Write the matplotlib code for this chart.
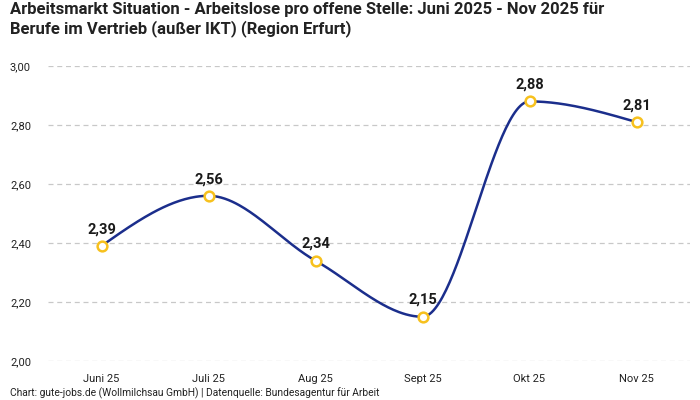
import numpy as np
import matplotlib
matplotlib.use("Agg")
import matplotlib.pyplot as plt

categories = ["Juni 25", "Juli 25", "Aug 25", "Sept 25", "Okt 25", "Nov 25"]
values = [2.39, 2.56, 2.34, 2.15, 2.88, 2.81]
yticks = [2.0, 2.2, 2.4, 2.6, 2.8, 3.0]

title = ("Arbeitsmarkt Situation - Arbeitslose pro offene Stelle: Juni 2025 - Nov 2025 für\n"
         "Berufe im Vertrieb (außer IKT) (Region Erfurt)")
footer = "Chart: gute-jobs.de (Wollmilchsau GmbH) | Datenquelle: Bundesagentur für Arbeit"

plt.rcParams['font.family'] = ['Roboto', 'DejaVu Sans']

LINE = "#1b2e8c"
GOLD = "#f7c11e"


def monotone_curve(x, y, n=60):
    x = np.asarray(x, float); y = np.asarray(y, float)
    m = len(x)
    h = np.diff(x); s = np.diff(y) / h
    t = np.zeros(m)
    for i in range(1, m - 1):
        p = (s[i-1] * h[i] + s[i] * h[i-1]) / (h[i-1] + h[i])
        t[i] = (np.sign(s[i-1]) + np.sign(s[i])) * min(abs(s[i-1]), abs(s[i]), 0.5 * abs(p))
    t[0] = (3 * s[0] - t[1]) / 2
    t[-1] = (3 * s[-1] - t[-2]) / 2
    xs, ys = [], []
    u = np.linspace(0, 1, n)
    for i in range(m - 1):
        dx = (x[i+1] - x[i]) / 3
        P0 = (x[i], y[i]); P1 = (x[i] + dx, y[i] + dx * t[i])
        P2 = (x[i+1] - dx, y[i+1] - dx * t[i+1]); P3 = (x[i+1], y[i+1])
        bx = (1-u)**3*P0[0] + 3*(1-u)**2*u*P1[0] + 3*(1-u)*u**2*P2[0] + u**3*P3[0]
        by = (1-u)**3*P0[1] + 3*(1-u)**2*u*P1[1] + 3*(1-u)*u**2*P2[1] + u**3*P3[1]
        xs.extend(bx); ys.extend(by)
    return np.array(xs), np.array(ys)


fig = plt.figure(figsize=(7, 4), dpi=100)
ax = fig.add_axes([48/700, 39/400, 642/700, 295/400])

xi = np.arange(len(categories))
cx, cy = monotone_curve(xi, values)
ax.plot(cx, cy, color=LINE, lw=1.8, zorder=3, solid_capstyle='round')
ax.plot(xi, values, 'o', ms=7, mfc='white', mec=GOLD, mew=1.8, zorder=4, linestyle='none')

for x, v in zip(xi, values):
    ax.annotate(f"{v:.2f}".replace('.', ','), (x, v), xytext=(0, 7), textcoords='offset points',
                ha='center', va='bottom', fontsize=10.5, fontweight='bold', color='#1a1a1a', zorder=5)

ax.set_xlim(-0.5, len(categories) - 0.5)
ax.set_ylim(2.0, 3.0)
ax.set_yticks(yticks)
ax.set_yticklabels([f"{t:.2f}".replace('.', ',') for t in yticks])
ax.set_xticks(xi)
ax.set_xticklabels(categories)
ax.tick_params(axis='both', length=0, labelsize=8, colors='#222222')
ax.tick_params(axis='x', pad=9)
ax.tick_params(axis='y', pad=(48 - 10) * 0.72)
for lab in ax.get_yticklabels():
    lab.set_horizontalalignment('left')
ax.grid(axis='y', color='#c8c8c8', linestyle=(0, (4, 3)), lw=0.9)
ax.set_axisbelow(True)
for sp in ax.spines.values():
    sp.set_visible(False)

fig.text(10/700, 1 - 2/400, title, ha='left', va='top', fontsize=12, fontweight='bold',
         color='#222222', linespacing=1.2)
fig.text(10/700, 1 - 393/400, footer, ha='left', va='center', fontsize=7.4, color='#222222')

fig.savefig("out.png", dpi=100)
